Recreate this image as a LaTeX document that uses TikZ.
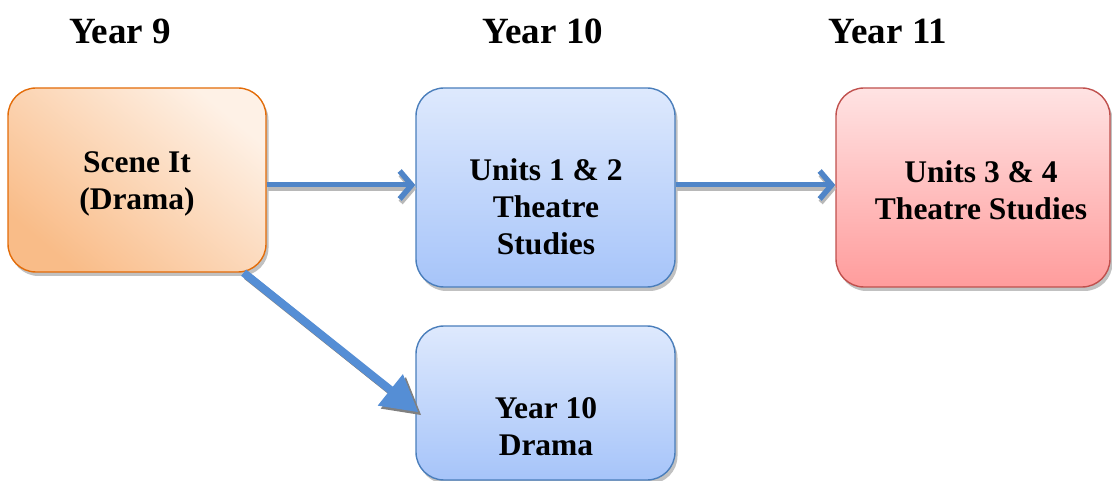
\documentclass[tikz,border=0pt]{standalone}
\usepackage{fontspec}
\setmainfont{Liberation Serif}
\usetikzlibrary{arrows.meta,shadows}

\definecolor{orangeedge}{HTML}{E36C09}
\definecolor{orangelight}{HTML}{FEF1E6}
\definecolor{orangedark}{HTML}{F9BC88}
\definecolor{blueedge}{HTML}{4A7EBB}
\definecolor{bluelight}{HTML}{DEE9FD}
\definecolor{bluedark}{HTML}{A6C4F9}
\definecolor{rededge}{HTML}{C0504D}
\definecolor{redlight}{HTML}{FFE3E3}
\definecolor{reddark}{HTML}{FF9C9C}
\definecolor{arrowblue}{HTML}{4F85C8}
\definecolor{branchblue}{HTML}{558ED5}
\definecolor{shadowgrey}{HTML}{A6A6A6}

\tikzset{
  box/.style={rounded corners=28pt, line width=1.4pt, inner sep=0pt,
    drop shadow={shadow xshift=2.5pt, shadow yshift=-4pt, fill=shadowgrey, opacity=0.7}},
  orangebox/.style={box, draw=orangeedge, top color=orangelight, bottom color=orangedark, shading angle=-40},
  bluebox/.style={box, draw=blueedge, top color=bluelight, bottom color=bluedark},
  redbox/.style={box, draw=rededge, top color=redlight, bottom color=reddark},
  label/.style={font=\bfseries\fontsize{31.5}{37}\selectfont, align=center, inner sep=0pt},
  heading/.style={font=\bfseries\fontsize{37}{40}\selectfont, inner sep=0pt},
  barb/.style={-{Straight Barb[length=12pt, width=28pt, line width=5.5pt]}},
  flow/.style={draw=arrowblue, line width=5pt, barb},
  flowshadow/.style={draw=shadowgrey!80, line width=5pt, barb,
    transform canvas={xshift=1pt, yshift=-3.5pt}},
  wedge/.style={-{Triangle[length=36pt, width=38pt]}},
  branch/.style={draw=branchblue, line width=8pt, wedge},
  branchshadow/.style={draw=gray, line width=8pt, wedge,
    transform canvas={xshift=3pt, yshift=-3pt}},
}

\begin{document}
\begin{tikzpicture}[x=1pt, y=-1pt]
  \useasboundingbox (0,0) rectangle (1112,481);

  % column headings
  \node[heading] (h9)  at (120,31) {Year 9};
  \node[heading] (h10) at (543,31) {Year 10};
  \node[heading] (h11) at (888,31) {Year 11};

  % course boxes
  \node[orangebox, minimum width=258pt, minimum height=184pt] (scene) at (137,180) {};
  \node[bluebox, minimum width=259pt, minimum height=199pt] (units12) at (545.5,187.5) {};
  \node[redbox, minimum width=274pt, minimum height=199pt] (units34) at (973,187.5) {};
  \node[bluebox, minimum width=259pt, minimum height=154pt] (drama10) at (545.5,403) {};

  % box texts
  \node[label] (tscene)   at (137,184) {Scene It\\(Drama)};
  \node[label] (tunits12) at (546,207) {Units 1 \& 2\\Theatre\\Studies};
  \node[label] (tunits34) at (981,190) {Units 3 \& 4\\Theatre Studies};
  \node[label] (tdrama10) at (546,427) {Year 10\\Drama};

  % pathways
  \draw[flowshadow] (scene.east |- 0,185) -- (units12.west |- 0,185);
  \draw[flow]       (scene.east |- 0,185) -- (units12.west |- 0,185);
  \draw[flowshadow] (units12.east |- 0,185) -- (units34.west |- 0,185);
  \draw[flow]       (units12.east |- 0,185) -- (units34.west |- 0,185);
  \draw[branchshadow, shorten >=-4pt] (scene.-41) -- (drama10.183);
  \draw[branch, shorten >=-4pt]       (scene.-41) -- (drama10.183);
\end{tikzpicture}
\end{document}
